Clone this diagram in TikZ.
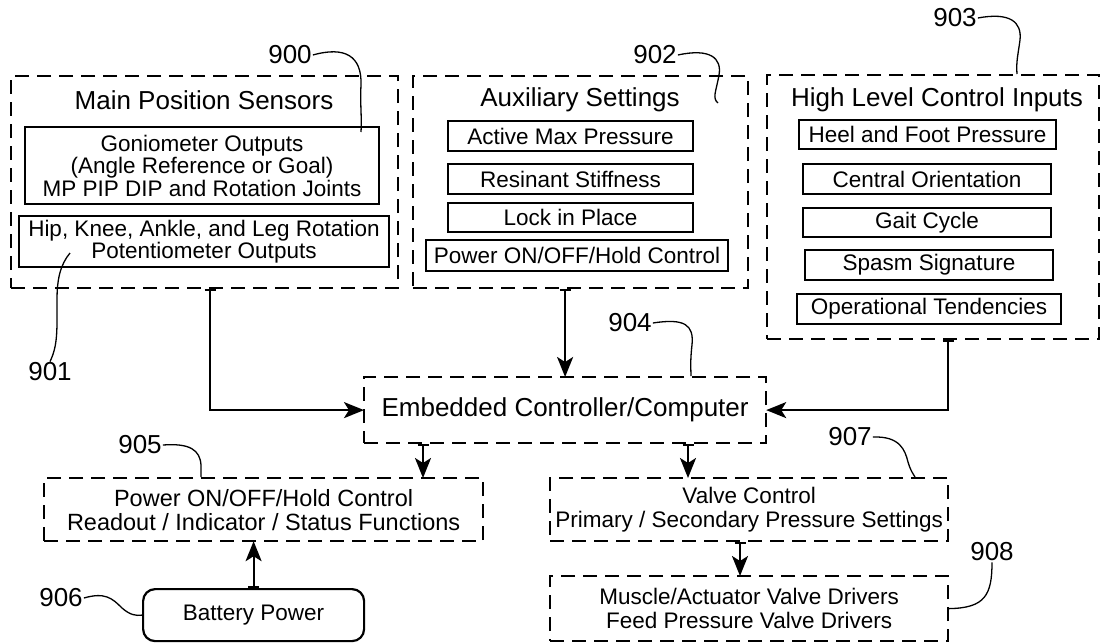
\documentclass[tikz,border=0pt]{standalone}
\usepackage{fontspec}
\setmainfont{Liberation Sans}
\usetikzlibrary{arrows.meta}
\begin{document}
\begin{tikzpicture}[x=1pt,y=-1pt,
  outer/.style={draw, line width=2.2pt, dash pattern=on 14pt off 8pt, inner sep=0pt, anchor=north west, align=center, font=\fontsize{22.5}{24}\selectfont},
  inbox/.style={draw, line width=2pt, inner sep=0pt, anchor=north west, align=center, font=\fontsize{22.5}{22.5}\selectfont},
  title/.style={font=\fontsize{26}{28}\selectfont, inner sep=0pt},
  lab/.style={font=\fontsize{26}{28}\selectfont, inner sep=1pt},
  lead/.style={line width=1.3pt},
  arr/.style={line width=2.2pt, {Bar[width=11pt,line width=2pt]}-{Stealth[length=20pt,width=16pt,inset=5pt]}, shorten >=-1pt},
]
\useasboundingbox (0,0) rectangle (1103,643);

% outer groups
\node[outer, minimum width=387pt, minimum height=212pt] (b900) at (10,75) {};
\node[outer, minimum width=335pt, minimum height=212pt] (b902) at (412,75) {};
\node[outer, minimum width=332pt, minimum height=264pt] (b903) at (766,74) {};

\node[title] (t900) at (204,100) {Main Position Sensors};
\node[title] (t902) at (580,100) {Auxiliary Settings};
\node[title] (t903) at (937,100) {High Level Control Inputs};

% 900 contents
\node[inbox, minimum width=354pt, minimum height=77pt] (gon) at (24,126) {Goniometer Outputs\\(Angle Reference or Goal)\\MP PIP DIP and Rotation Joints};
\node[inbox, minimum width=370pt, minimum height=51pt] (hip) at (18,215) {Hip, Knee, Ankle, and Leg Rotation\\Potentiometer Outputs};

% 902 contents
\node[inbox, minimum width=245pt, minimum height=30pt] (amp) at (447,120) {Active Max Pressure};
\node[inbox, minimum width=245pt, minimum height=30pt] (rst) at (447,163) {Resinant Stiffness};
\node[inbox, minimum width=245pt, minimum height=29pt] (lip) at (447,202) {Lock in Place};
\node[inbox, minimum width=302pt, minimum height=31pt] (pwr) at (425,239) {Power ON/OFF/Hold Control};

% 903 contents
\node[inbox, minimum width=257pt, minimum height=29pt] (heel) at (798,119) {Heel and Foot Pressure};
\node[inbox, minimum width=248pt, minimum height=30pt] (cen) at (802,163) {Central Orientation};
\node[inbox, minimum width=248pt, minimum height=29pt] (gait) at (802,207) {Gait Cycle};
\node[inbox, minimum width=248pt, minimum height=30pt] (spa) at (804,249) {Spasm Signature};
\node[inbox, minimum width=264pt, minimum height=30pt] (ope) at (796,293) {Operational Tendencies};

% controller and outputs
\node[outer, minimum width=402pt, minimum height=66pt, font=\fontsize{26}{28}\selectfont] (emb) at (363,376) {Embedded Controller/Computer};
\node[outer, minimum width=439pt, minimum height=63pt, font=\fontsize{23.5}{24}\selectfont] (b905) at (43,477) {Power ON/OFF/Hold Control\\Readout / Indicator / Status Functions};
\node[outer, minimum width=398pt, minimum height=63pt] (b907) at (549,477) {Valve Control\\Primary / Secondary Pressure Settings};
\node[outer, minimum width=398pt, minimum height=65pt] (b908) at (549,575) {Muscle/Actuator Valve Drivers\\Feed Pressure Valve Drivers};
\node[draw, line width=2.2pt, rounded corners=12pt, inner sep=0pt, anchor=north west, minimum width=221pt, minimum height=52pt, font=\fontsize{22.5}{24}\selectfont] (bat) at (142,588) {Battery Power};

% reference numerals
\node[lab] (l900) at (290,55) {900};
\node[lab] (l902) at (655,55) {902};
\node[lab] (l903) at (955,18) {903};
\node[lab] (l901) at (50,372) {901};
\node[lab] (l904) at (630,323) {904};
\node[lab] (l905) at (140,445) {905};
\node[lab] (l906) at (61,598) {906};
\node[lab] (l907) at (850,437) {907};
\node[lab] (l908) at (992,552) {908};

% leader end points
\coordinate (e900) at (361,132);
\coordinate (e902) at (718,103);
\coordinate (e901) at (70,253);

\draw[lead] (l900.east) .. controls (345,46) and (362,56) .. (361,85) .. controls (360,105) and (362,118) .. (e900);
\draw[lead] (l902.east) .. controls (710,48) and (722,58) .. (719,75) .. controls (716,92) and (712,98) .. (e902);
\draw[lead] (l903.east) .. controls (1010,12) and (1022,22) .. (1020,40) .. controls (1018,55) and (1016,62) .. (b903.north -| 1017,0);
\draw[lead] (e901) .. controls (60,265) and (57,280) .. (57,300) .. controls (57,330) and (58,345) .. (l901.north);
\draw[lead] (l904.east) .. controls (685,318) and (694,325) .. (692,345) .. controls (690,362) and (691,370) .. (emb.north -| 691,0);
\draw[lead] (l905.east) .. controls (190,443) and (200,450) .. (201,465) -- (b905.north -| 201,0);
\draw[lead] (l907.east) .. controls (900,436) and (905,450) .. (908,462) .. controls (911,472) and (914,475) .. (b907.north -| 915,0);
\draw[lead] (l908.south) .. controls (992,595) and (985,608) .. (b908.east);
\draw[lead] (l906.east) .. controls (105,592) and (112,598) .. (122,608) .. controls (130,615) and (136,616) .. (bat.west);

% arrows
\draw[arr] (b900.south -| 210,0) |- (emb.west);
\draw[arr] (emb.north |- b902.south) -- (emb.north);
\draw[arr] (b903.south -| 948,0) |- (emb.east);
\draw[arr] (emb.south -| 423,0) -- (b905.north -| 423,0);
\draw[arr] (emb.south -| 688,0) -- (b907.north -| 688,0);
\draw[arr] (b907.south -| 740,0) -- (b908.north -| 740,0);
\draw[arr] (bat.north) -- (b905.south -| bat.north);
\end{tikzpicture}
\end{document}
